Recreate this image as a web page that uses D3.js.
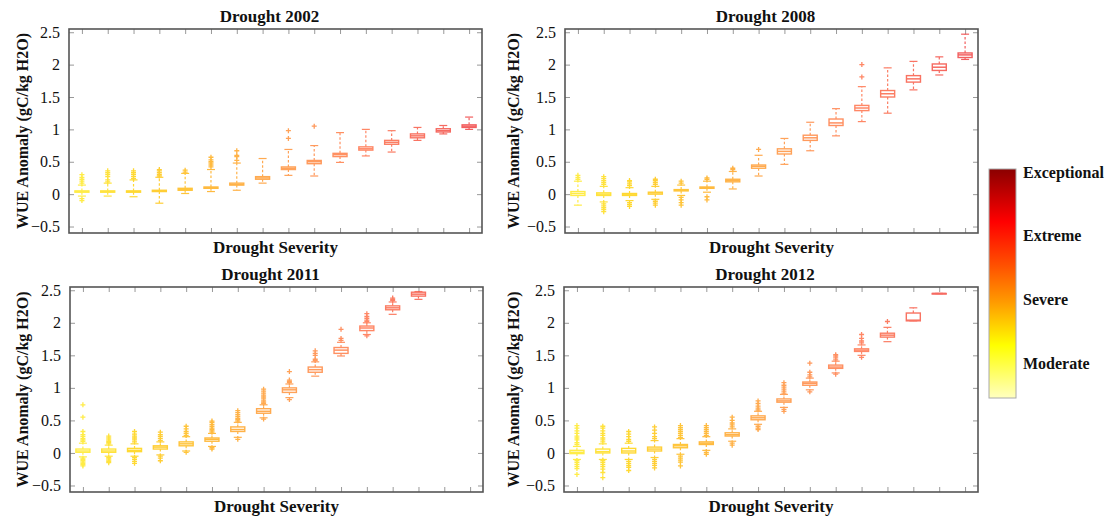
<!DOCTYPE html>
<meta charset="utf-8">
<style>
  body { margin: 0; background: #fff; }
  text { font-family: "Liberation Serif", "Times New Roman", serif; fill: #111; }
</style>
<body>
<div id="chart"></div>
<script src="https://d3js.org/d3.v7.min.js"></script>
<script>
// severity classes (x positions) and y ticks
var severityClasses = d3.range(1, 17);
var yTicks = [-0.5, 0, 0.5, 1, 1.5, 2, 2.5];
var panelTitles = ['Drought 2002', 'Drought 2008', 'Drought 2011', 'Drought 2012'];
var legendLabels = ['Exceptional', 'Extreme', 'Severe', 'Moderate'];

// box stats per class: [low whisker, q1, median, q3, high whisker]
var stats2002 = [
  [-0.03, 0.03, 0.04, 0.05, 0.14], [-0.03, 0.03, 0.04, 0.05, 0.17], [-0.04, 0.03, 0.04, 0.05, 0.22],
  [-0.14, 0.04, 0.05, 0.06, 0.26], [0.01, 0.06, 0.07, 0.09, 0.32], [0.04, 0.09, 0.10, 0.11, 0.38],
  [0.06, 0.14, 0.15, 0.17, 0.48], [0.17, 0.23, 0.25, 0.27, 0.55], [0.29, 0.38, 0.40, 0.42, 0.69],
  [0.28, 0.47, 0.50, 0.52, 0.75], [0.49, 0.58, 0.61, 0.63, 0.95], [0.59, 0.68, 0.70, 0.73, 1.00],
  [0.65, 0.77, 0.80, 0.83, 0.98], [0.83, 0.87, 0.90, 0.93, 1.03], [0.93, 0.96, 0.98, 1.01, 1.06],
  [1.00, 1.03, 1.05, 1.07, 1.19]
];
var outliers2002 = [
  [0.17, 0.2, 0.23, 0.26, 0.3, -0.07, -0.1], [0.19, 0.22, 0.27, 0.3, 0.33, 0.36], [0.24, 0.27, 0.3, 0.33, 0.36],
  [0.28, 0.3, 0.33, 0.36, 0.38], [0.34, 0.37], [0.42, 0.45, 0.48, 0.5, 0.53, 0.57],
  [0.52, 0.58, 0.6, 0.67], [], [0.86, 0.98], [1.05], [], [], [], [], [], []
];

var stats2008 = [
  [-0.17, -0.02, 0.01, 0.04, 0.20], [-0.12, -0.02, 0.00, 0.02, 0.12], [-0.10, -0.02, 0.00, 0.01, 0.10],
  [-0.08, 0.00, 0.02, 0.03, 0.12], [-0.02, 0.05, 0.06, 0.07, 0.14], [0.03, 0.09, 0.10, 0.11, 0.20],
  [0.08, 0.19, 0.21, 0.23, 0.35], [0.28, 0.40, 0.43, 0.45, 0.60], [0.46, 0.62, 0.66, 0.70, 0.86],
  [0.67, 0.83, 0.87, 0.91, 1.11], [0.90, 1.06, 1.10, 1.16, 1.32], [1.12, 1.29, 1.33, 1.37, 1.66],
  [1.25, 1.50, 1.55, 1.60, 1.95], [1.61, 1.73, 1.78, 1.83, 2.05], [1.84, 1.91, 1.96, 2.01, 2.12],
  [2.08, 2.11, 2.15, 2.18, 2.47]
];
var outliers2008 = [
  [0.23, 0.26, 0.29], [0.15, 0.18, 0.21, 0.24, 0.27, -0.15, -0.18, -0.21, -0.24, -0.27],
  [0.13, 0.16, 0.19, 0.21, -0.13, -0.16, -0.19], [0.15, 0.18, 0.21, 0.23, -0.11, -0.14, -0.17],
  [0.17, 0.2, -0.05, -0.09, -0.13, -0.17], [0.23, 0.25, -0.04, -0.09], [0.38, 0.4], [0.69],
  [], [], [], [1.81, 2.0], [], [], [], []
];

var stats2011 = [
  [-0.06, 0.01, 0.03, 0.06, 0.15], [-0.05, 0.01, 0.03, 0.06, 0.12], [-0.05, 0.02, 0.04, 0.07, 0.14],
  [-0.03, 0.06, 0.09, 0.11, 0.17], [0.03, 0.11, 0.14, 0.17, 0.25], [0.10, 0.18, 0.21, 0.23, 0.30],
  [0.24, 0.33, 0.36, 0.40, 0.47], [0.54, 0.61, 0.64, 0.68, 0.74], [0.85, 0.93, 0.97, 1.00, 1.06],
  [1.18, 1.24, 1.28, 1.32, 1.40], [1.49, 1.53, 1.58, 1.62, 1.70], [1.82, 1.88, 1.92, 1.95, 2.00],
  [2.13, 2.20, 2.23, 2.26, 2.32], [2.36, 2.41, 2.44, 2.47, 2.48]
];
var outliers2011 = [
  [0.18, 0.2, 0.22, 0.25, 0.28, 0.33, 0.55, 0.74, -0.08, -0.1, -0.12, -0.14, -0.16, -0.18, -0.2],
  [0.14, 0.16, 0.18, 0.2, 0.23, 0.26, -0.07, -0.09, -0.11, -0.13, -0.15],
  [0.17, 0.2, 0.23, 0.26, 0.29, 0.33, -0.07, -0.1, -0.13, -0.16],
  [0.19, 0.22, 0.25, 0.28, 0.32, -0.05, -0.08, -0.12],
  [0.27, 0.3, 0.33, 0.37, 0.41, 0.01],
  [0.32, 0.34, 0.36, 0.38, 0.41, 0.44, 0.47, 0.49, 0.08, 0.06],
  [0.49, 0.51, 0.53, 0.56, 0.59, 0.62, 0.65, 0.21],
  [0.76, 0.78, 0.8, 0.83, 0.86, 0.89, 0.92, 0.95, 0.98, 0.52],
  [1.08, 1.1, 1.12, 1.25, 0.82],
  [1.42, 1.44, 1.5, 1.53, 1.57],
  [1.73, 1.76, 1.9],
  [2.02, 2.04, 2.07, 2.1, 2.14, 1.8],
  [2.34, 2.36, 2.38],
  []
];

var stats2012 = [
  [-0.10, -0.01, 0.01, 0.04, 0.10], [-0.10, 0.00, 0.02, 0.06, 0.14], [-0.10, 0.00, 0.03, 0.07, 0.15],
  [-0.07, 0.03, 0.06, 0.09, 0.19], [-0.02, 0.08, 0.11, 0.13, 0.22], [0.04, 0.13, 0.15, 0.17, 0.25],
  [0.18, 0.26, 0.28, 0.31, 0.37], [0.44, 0.51, 0.54, 0.57, 0.64], [0.70, 0.78, 0.80, 0.83, 0.90],
  [0.97, 1.04, 1.07, 1.09, 1.15], [1.23, 1.30, 1.32, 1.35, 1.41], [1.50, 1.56, 1.58, 1.60, 1.66],
  [1.71, 1.78, 1.81, 1.84, 1.93], [2.03, 2.03, 2.04, 2.15, 2.23], [2.45, 2.45, 2.45, 2.45, 2.45]
];
var outliers2012 = [
  [0.13, 0.16, 0.2, 0.23, 0.26, 0.3, 0.34, 0.38, 0.42, -0.12, -0.15, -0.18, -0.21, -0.24, -0.33],
  [0.17, 0.2, 0.23, 0.27, 0.3, 0.34, 0.38, 0.41, -0.12, -0.15, -0.18, -0.21, -0.25, -0.3, -0.38],
  [0.18, 0.21, 0.25, 0.29, 0.33, -0.13, -0.16, -0.19, -0.22, -0.27],
  [0.22, 0.25, 0.3, 0.35, 0.4, -0.1, -0.13, -0.16, -0.19, -0.23],
  [0.24, 0.27, 0.3, 0.33, 0.36, 0.39, 0.42, -0.05, -0.08, -0.11, -0.14, -0.2],
  [0.27, 0.3, 0.33, 0.36, 0.39, 0.42, 0.01, -0.02],
  [0.4, 0.43, 0.46, 0.5, 0.55, 0.15, 0.12],
  [0.66, 0.69, 0.72, 0.76, 0.8, 0.41, 0.38, 0.36],
  [0.92, 0.95, 0.98, 1.01, 1.04, 1.08, 0.67, 0.64],
  [1.17, 1.2, 1.24, 1.38, 0.94],
  [1.43, 1.46, 1.49, 1.51, 1.21],
  [1.69, 1.72, 1.76, 1.82, 1.47],
  [2.02],
  [],
  []
];

var allStats = [stats2002, stats2008, stats2011, stats2012];
var allOutliers = [outliers2002, outliers2008, outliers2011, outliers2012];

var W = 1116, H = 517;
var svg = d3.select('#chart').append('svg').attr('width', W).attr('height', H);

var frames = [
  {x0: 69, x1: 482, y0: 29, y1: 233, labelX: 22},
  {x0: 565, x1: 978, y0: 29, y1: 233, labelX: 513},
  {x0: 70, x1: 483, y0: 287, y1: 492, labelX: 22},
  {x0: 564, x1: 978, y0: 287, y1: 492, labelX: 513}
];

// box colour by severity class
var boxColor = d3.scaleLinear()
  .domain([0, 2, 5, 8, 11, 15])
  .range(['#ffe81a', '#ffd000', '#ffaa10', '#ff8c30', '#ff6a40', '#f03838']);

var plus = 'M-2.5,0H2.5M0,-2.5V2.5';

frames.forEach(function (f, p) {
  var x = d3.scalePoint().domain(severityClasses).range([f.x0, f.x1]).padding(0.5);
  var y = d3.scaleLinear().domain([-0.6, 2.55]).range([f.y1, f.y0]);
  var g = svg.append('g');

  // ticks on all four sides, pointing in
  var xAxisB = d3.axisBottom(x).tickSize(-5).tickFormat('');
  var xAxisT = d3.axisTop(x).tickSize(-5).tickFormat('');
  var yAxisL = d3.axisLeft(y).tickValues(yTicks).tickSize(-5).tickPadding(9)
    .tickFormat(function (d) { return d3.format('')(d); });
  var yAxisR = d3.axisRight(y).tickValues(yTicks).tickSize(-5).tickFormat('');

  [[xAxisB, 'translate(0,' + f.y1 + ')'], [xAxisT, 'translate(0,' + f.y0 + ')'],
   [yAxisL, 'translate(' + f.x0 + ',0)'], [yAxisR, 'translate(' + f.x1 + ',0)']].forEach(function (a) {
    var ax = g.append('g').attr('transform', a[1]).call(a[0]);
    ax.select('.domain').remove();
    ax.selectAll('.tick line').attr('stroke', '#999').attr('stroke-width', 1);
    ax.selectAll('.tick text').style('font-size', '16px')
      .style('font-family', '"Liberation Serif", serif').attr('fill', '#222');
  });

  g.append('rect')
    .attr('x', f.x0).attr('y', f.y0)
    .attr('width', f.x1 - f.x0).attr('height', f.y1 - f.y0)
    .attr('fill', 'none').attr('stroke', '#555').attr('stroke-width', 1.6);

  // boxes
  var stats = allStats[p], outs = allOutliers[p];
  var bw = 14, cw = 8;
  stats.forEach(function (s, i) {
    var cx = x(severityClasses[i]);
    var col = boxColor(i);
    var b = g.append('g').attr('stroke', col).attr('fill', 'none').attr('opacity', 0.8);
    // whiskers
    b.append('line').attr('x1', cx).attr('x2', cx).attr('y1', y(s[3])).attr('y2', y(s[4]))
      .attr('stroke-dasharray', '2.5,2').attr('stroke-width', 1.2);
    b.append('line').attr('x1', cx).attr('x2', cx).attr('y1', y(s[1])).attr('y2', y(s[0]))
      .attr('stroke-dasharray', '2.5,2').attr('stroke-width', 1.2);
    b.append('line').attr('x1', cx - cw / 2).attr('x2', cx + cw / 2).attr('y1', y(s[4])).attr('y2', y(s[4]))
      .attr('stroke-width', 1.2);
    b.append('line').attr('x1', cx - cw / 2).attr('x2', cx + cw / 2).attr('y1', y(s[0])).attr('y2', y(s[0]))
      .attr('stroke-width', 1.2);
    b.append('rect').attr('x', cx - bw / 2).attr('width', bw)
      .attr('y', y(s[3])).attr('height', Math.max(y(s[1]) - y(s[3]), 0.5))
      .attr('fill', '#fff').attr('stroke-width', 1.4);
    b.append('line').attr('x1', cx - bw / 2).attr('x2', cx + bw / 2).attr('y1', y(s[2])).attr('y2', y(s[2]))
      .attr('stroke-width', 1.5);
    b.selectAll('path').data(outs[i]).enter().append('path')
      .attr('d', plus)
      .attr('transform', function (d) { return 'translate(' + cx + ',' + y(d) + ')'; })
      .attr('stroke-width', 1.3);
  });

  // labels
  var mid = (f.x0 + f.x1) / 2;
  svg.append('text').attr('x', mid - 6).attr('y', f.y0 - 7)
    .attr('text-anchor', 'middle').style('font-size', '17px').style('font-weight', 'bold')
    .text(panelTitles[p]);
  svg.append('text').attr('x', mid).attr('y', f.y1 + 20)
    .attr('text-anchor', 'middle').style('font-size', '17px').style('font-weight', 'bold')
    .text('Drought Severity');
  svg.append('text')
    .attr('transform', 'translate(' + f.labelX + ',' + ((f.y0 + f.y1) / 2) + ') rotate(-90)')
    .attr('text-anchor', 'middle').attr('dy', '0.35em')
    .style('font-size', '16px').style('font-weight', 'bold')
    .text('WUE Anomaly (gC/kg H2O)');
});

// colour bar legend
var defs = svg.append('defs');
var grad = defs.append('linearGradient').attr('id', 'sev')
  .attr('x1', 0).attr('y1', 0).attr('x2', 0).attr('y2', 1);
[[0, '#8b0000'], [0.23, '#ff0000'], [0.42, '#ff5000'], [0.58, '#ff9a00'], [0.77, '#ffff00'], [1, '#ffffc0']]
  .forEach(function (s) {
    grad.append('stop').attr('offset', s[0]).attr('stop-color', s[1]);
  });

var legY = d3.scalePoint().domain(legendLabels).range([172, 363]);
svg.append('rect').attr('x', 989).attr('y', 169).attr('width', 27).attr('height', 229)
  .attr('fill', 'url(#sev)').attr('stroke', '#aaa').attr('stroke-width', 1);
svg.selectAll('.leg').data(legendLabels).enter().append('text')
  .attr('class', 'leg')
  .attr('x', 1023).attr('y', function (d) { return legY(d); })
  .attr('dy', '0.35em')
  .style('font-size', '16px').style('font-weight', 'bold')
  .text(function (d) { return d; });
</script>
</body>
